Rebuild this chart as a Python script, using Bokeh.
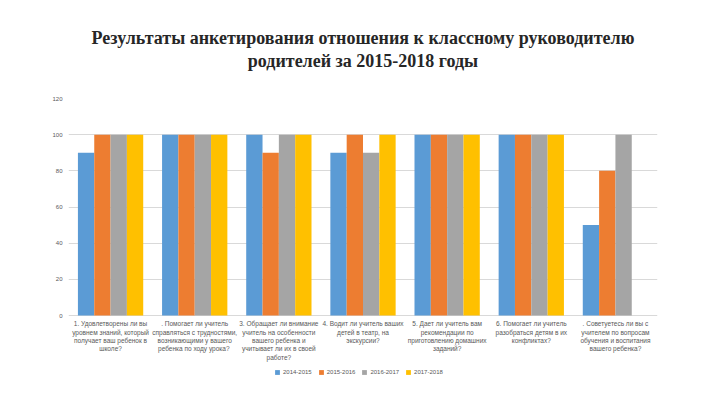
from bokeh.plotting import figure
from bokeh.models import ColumnDataSource, Range1d, FixedTicker, Legend, LegendItem, Title
from bokeh.core.properties import value
from bokeh.embed import file_html
from bokeh.resources import INLINE

categories = [
    "1. Удовлетворены ли вы\nуровнем знаний, который\nполучает ваш ребенок в\nшколе?",
    ". Помогает ли учитель\nсправляться с трудностями,\nвозникающими у вашего\nребенка  по ходу урока?",
    "3. Обращает ли внимание\nучитель на особенности\nвашего ребенка и\nучитывает ли их в своей\nработе?",
    "4. Водит ли учитель ваших\nдетей в театр, на\nэкскурсии?",
    "5. Дает ли учитель вам\nрекомендации по\nприготовлению домашних\nзаданий?",
    "6. Помогает ли учитель\nразобраться детям в их\nконфликтах?",
    ". Советуетесь ли вы с\nучителем по вопросам\nобучения и воспитания\nвашего ребенка?",
]
series_names = ["2014-2015", "2015-2016", "2016-2017", "2017-2018"]
v2014 = [90, 100, 100, 90, 100, 100, 50]
v2015 = [100, 100, 90, 100, 100, 100, 80]
v2016 = [100, 100, 100, 90, 100, 100, 100]
v2017 = [100, 100, 100, 100, 100, 100, 0]
y_ticks = [0, 20, 40, 60, 80, 100, 120]

colors = ["#5B9BD5", "#ED7D31", "#A5A5A5", "#FFC000"]
series = [v2014, v2015, v2016, v2017]
bw = 0.194
offsets = [-1.5 * bw, -0.5 * bw, 0.5 * bw, 1.5 * bw]

p = figure(width=704, height=389, output_backend="svg", toolbar_location=None,
           x_range=Range1d(-0.5, 6.5), y_range=Range1d(-38.7, 120),
           min_border_left=68, min_border_right=47, min_border_bottom=4, min_border_top=98)
p.outline_line_color = None
p.background_fill_color = "white"
p.border_fill_color = "white"

items = []
for name, vals, col, off in zip(series_names, series, colors, offsets):
    xs = [i + off for i in range(len(vals))]
    src = ColumnDataSource(dict(x=xs, top=vals))
    r = p.vbar(x="x", top="top", width=bw, bottom=0, source=src, fill_color=col, line_color=None)
    items.append(LegendItem(label=name, renderers=[r]))

# category labels under the axis line
lab_src = ColumnDataSource(dict(x=list(range(len(categories))), y=[-2.6] * len(categories),
                                text=categories))
p.text(x="x", y="y", text="text", source=lab_src, text_align="center", text_baseline="top",
       text_font=value("Liberation Sans"), text_font_size="6.5px", text_color="#595959",
       text_line_height=1.2)

p.yaxis.ticker = FixedTicker(ticks=y_ticks)
p.yaxis.axis_line_color = None
p.yaxis.major_tick_line_color = None
p.yaxis.minor_tick_line_color = None
p.yaxis.major_label_text_font_size = "6px"
p.yaxis.major_label_text_color = "#595959"
p.yaxis.major_label_text_font = "Liberation Sans"
p.yaxis.major_label_standoff = 0

p.ygrid.grid_line_color = "#D9D9D9"
p.ygrid.ticker = FixedTicker(ticks=y_ticks)
p.xgrid.grid_line_color = None
p.xaxis.visible = False

legend = Legend(items=items, orientation="horizontal", location=(206, 10),
                label_text_font_size="6px", label_text_color="#595959",
                label_text_font="Liberation Sans", glyph_width=6, glyph_height=6,
                spacing=6, padding=2, margin=0, border_line_color=None,
                background_fill_alpha=0, label_standoff=3, label_height=6)
p.add_layout(legend, "center")

p.title = None
spacer = Title(text=" ", align="center", text_font="Liberation Serif", text_font_size="22px",
               standoff=0)
t2 = Title(text="родителей за 2015-2018 годы", align="center",
           text_font="Liberation Serif", text_font_size="18px", text_font_style="bold",
           text_color="#262626", standoff=2)
t1 = Title(text="Результаты анкетирования отношения к классному руководителю", align="center",
           text_font="Liberation Serif", text_font_size="18px", text_font_style="bold",
           text_color="#262626", standoff=0)
p.add_layout(spacer, "above")
p.add_layout(t2, "above")
p.add_layout(t1, "above")

open("out.html", "w").write(file_html(p, INLINE))
